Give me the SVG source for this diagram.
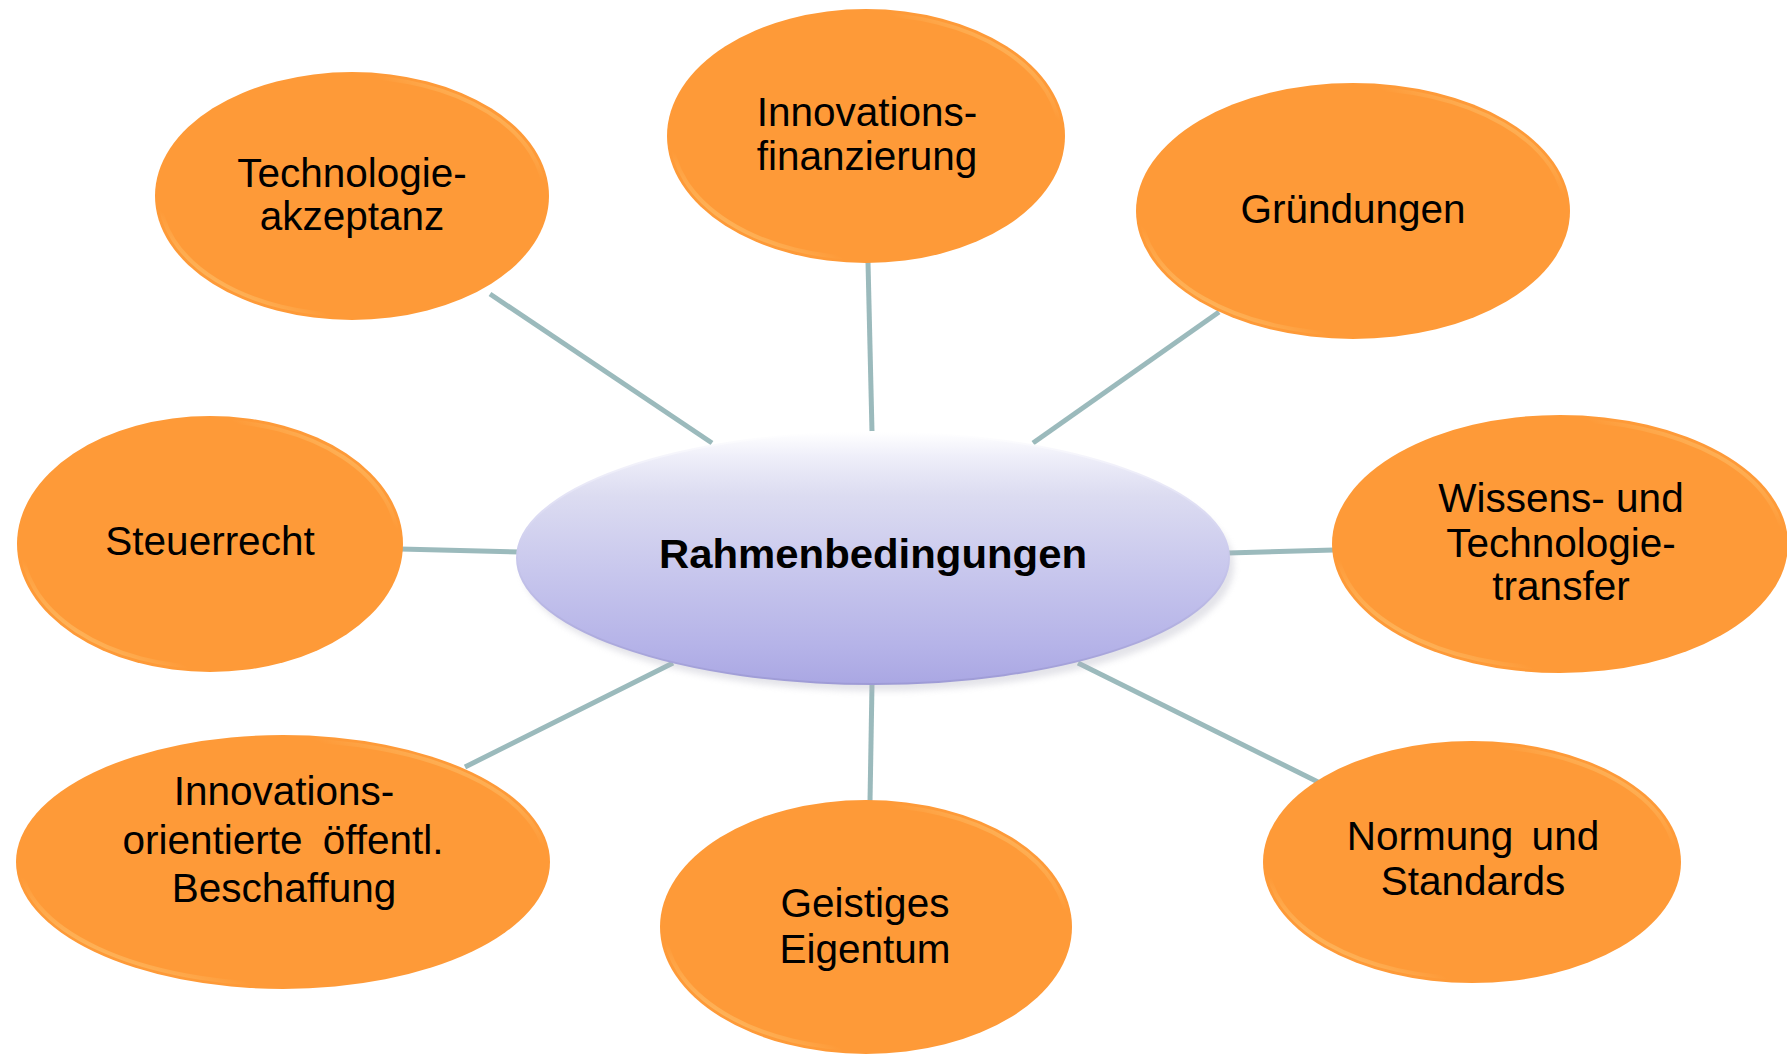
<svg xmlns="http://www.w3.org/2000/svg" width="1787" height="1054" viewBox="0 0 1787 1054">
<style>
.node{fill:#FE9A38;}
.bevel{fill:none;stroke:url(#bevelG);stroke-width:4;}
.lbl{font-family:"Liberation Sans",Arial,sans-serif;font-size:40.5px;fill:#000;text-anchor:middle;}
.conn line{stroke:#9BBABC;stroke-width:5;stroke-linecap:butt;}
</style>
<defs>
<linearGradient id="bevelG" x1="0" y1="1" x2="1" y2="0">
<stop offset="0" stop-color="#FFE49A" stop-opacity="0.9"/>
<stop offset="0.22" stop-color="#FFE49A" stop-opacity="0"/>
<stop offset="0.78" stop-color="#FFE49A" stop-opacity="0"/>
<stop offset="1" stop-color="#FFE49A" stop-opacity="0.8"/>
</linearGradient>
<linearGradient id="centerG" x1="0" y1="0" x2="0" y2="1">
<stop offset="0" stop-color="#FFFFFF"/>
<stop offset="0.1" stop-color="#EEEEF9"/>
<stop offset="0.25" stop-color="#DCDCF1"/>
<stop offset="0.55" stop-color="#C8C7ED"/>
<stop offset="0.85" stop-color="#B5B3E8"/>
<stop offset="1" stop-color="#AAA7E3"/>
</linearGradient>
<linearGradient id="centerRim" x1="0" y1="0" x2="0" y2="1">
<stop offset="0" stop-color="#FFFFFF"/>
<stop offset="0.5" stop-color="#C9C8EC"/>
<stop offset="1" stop-color="#9E9BD6"/>
</linearGradient>
<filter id="shadow" x="-10%" y="-10%" width="120%" height="130%">
<feGaussianBlur stdDeviation="3"/>
</filter>
</defs>

<g id="connectors" class="conn">
<line x1="490" y1="294" x2="712" y2="443"/>
<line x1="868" y1="262" x2="872" y2="432"/>
<line x1="1219" y1="312" x2="1033" y2="443"/>
<line x1="400" y1="549" x2="520" y2="552"/>
<line x1="1228" y1="553" x2="1334" y2="550"/>
<line x1="465" y1="767" x2="673" y2="663"/>
<line x1="872" y1="684" x2="870" y2="802"/>
<line x1="1078" y1="663" x2="1318" y2="782"/>
</g>

<g id="center">
<ellipse cx="878" cy="566" rx="356" ry="125" fill="#B0B0C0" opacity="0.35" filter="url(#shadow)"/>
<ellipse cx="873" cy="558" rx="356" ry="126" fill="url(#centerG)" stroke="url(#centerRim)" stroke-width="2"/>
<text x="873" y="568" font-family="'Liberation Sans',Arial,sans-serif" font-size="40" font-weight="bold" text-anchor="middle" textLength="428" lengthAdjust="spacingAndGlyphs">Rahmenbedingungen</text>
</g>

<g id="n-technologieakzeptanz">
<ellipse class="node" cx="352" cy="196" rx="197" ry="124"/>
<ellipse class="bevel" cx="352" cy="196" rx="192" ry="119"/>
<text class="lbl" x="352" y="187">Technologie-</text>
<text class="lbl" x="352" y="230">akzeptanz</text>
</g>

<g id="n-innovationsfinanzierung">
<ellipse class="node" cx="866" cy="136" rx="199" ry="127"/>
<ellipse class="bevel" cx="866" cy="136" rx="194" ry="122"/>
<text class="lbl" x="867" y="126">Innovations-</text>
<text class="lbl" x="867" y="170">finanzierung</text>
</g>

<g id="n-gruendungen">
<ellipse class="node" cx="1353" cy="211" rx="217" ry="128"/>
<ellipse class="bevel" cx="1353" cy="211" rx="212" ry="123"/>
<text class="lbl" x="1353" y="223">Gründungen</text>
</g>

<g id="n-steuerrecht">
<ellipse class="node" cx="210" cy="544" rx="193" ry="128"/>
<ellipse class="bevel" cx="210" cy="544" rx="188" ry="123"/>
<text class="lbl" x="210" y="555">Steuerrecht</text>
</g>

<g id="n-wissenstransfer">
<ellipse class="node" cx="1560" cy="544" rx="228" ry="129"/>
<ellipse class="bevel" cx="1560" cy="544" rx="223" ry="124"/>
<text class="lbl" x="1561" y="512">Wissens- und</text>
<text class="lbl" x="1561" y="557">Technologie-</text>
<text class="lbl" x="1561" y="600">transfer</text>
</g>

<g id="n-beschaffung">
<ellipse class="node" cx="283" cy="862" rx="267" ry="127"/>
<ellipse class="bevel" cx="283" cy="862" rx="262" ry="122"/>
<text class="lbl" x="284" y="805">Innovations-</text>
<text class="lbl" x="283" y="854" word-spacing="9">orientierte öffentl.</text>
<text class="lbl" x="284" y="902">Beschaffung</text>
</g>

<g id="n-geistigeseigentum">
<ellipse class="node" cx="866" cy="927" rx="206" ry="127"/>
<ellipse class="bevel" cx="866" cy="927" rx="201" ry="122"/>
<text class="lbl" x="865" y="917">Geistiges</text>
<text class="lbl" x="865" y="963">Eigentum</text>
</g>

<g id="n-normung">
<ellipse class="node" cx="1472" cy="862" rx="209" ry="121"/>
<ellipse class="bevel" cx="1472" cy="862" rx="204" ry="116"/>
<text class="lbl" x="1473" y="850" word-spacing="7">Normung und</text>
<text class="lbl" x="1473" y="895">Standards</text>
</g>
</svg>
